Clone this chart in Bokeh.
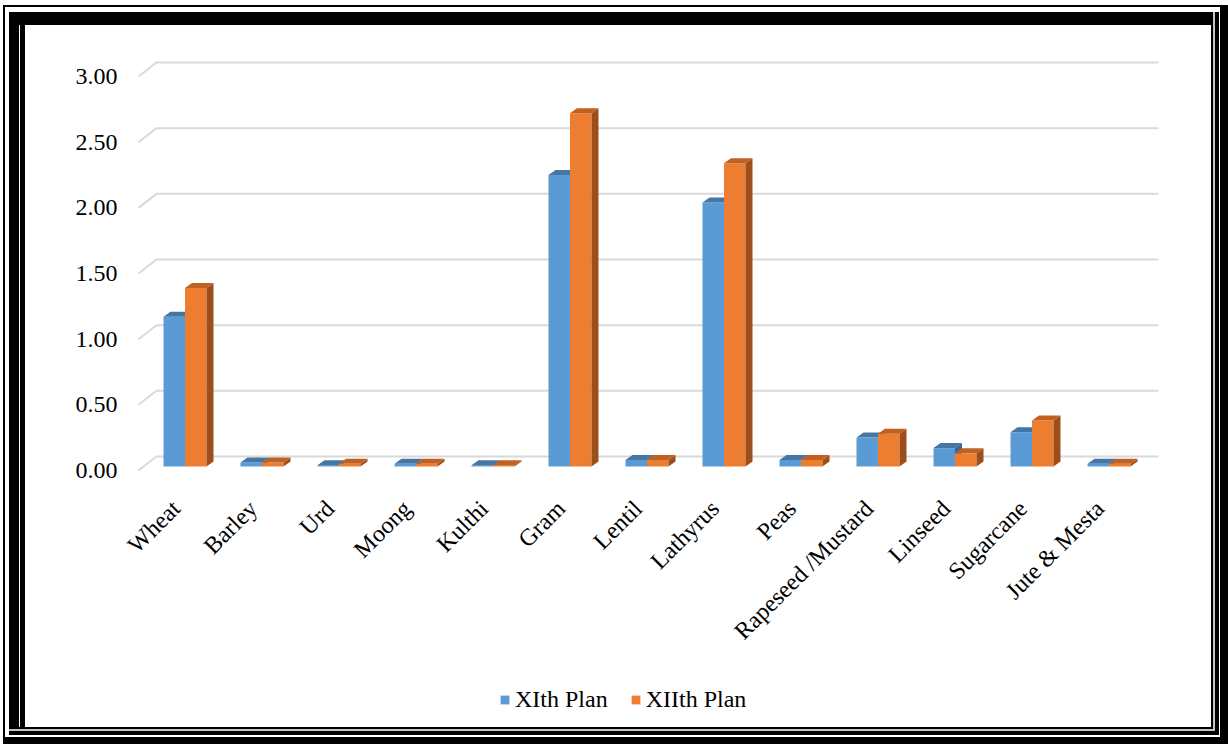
import math
from bokeh.plotting import figure
from bokeh.models import (Range1d, FixedTicker, NumeralTickFormatter, Legend,
                          LegendItem)
from bokeh.embed import file_html
from bokeh.resources import INLINE

# ---------------- data ----------------
categories = ["Wheat", "Barley", "Urd", "Moong", "Kulthi", "Gram", "Lentil",
              "Lathyrus", "Peas", "Rapeseed /Mustard", "Linseed", "Sugarcane",
              "Jute & Mesta"]
xith_plan = [1.14, 0.03, 0.01, 0.02, 0.01, 2.22, 0.05, 2.01, 0.05, 0.22, 0.14, 0.26, 0.02]
xiith_plan = [1.36, 0.03, 0.02, 0.02, 0.01, 2.69, 0.05, 2.31, 0.05, 0.25, 0.10, 0.35, 0.02]
series_names = ["XIth Plan", "XIIth Plan"]
y_ticks = [0.0, 0.5, 1.0, 1.5, 2.0, 2.5, 3.0]

# ---------------- layout / style ----------------
W, H = 1228, 744
FL, FR, FT, FB = 26, 68, 49, 14
Y0_PX = 470.0   # canvas row of the front-plane zero line
X0_PX = 175.5   # canvas column of the first category on the front plane
KX = 77.0       # px per category
KY = 131.33     # px per y unit
x_rng = Range1d(-(X0_PX - FL) / KX, (W - FR - X0_PX) / KX)
y_rng = Range1d(-(H - FB - Y0_PX) / KY, (Y0_PX - FT) / KY)

FONT = "Liberation Serif"
FS = "24px"
BLUE, BLUE_TOP, BLUE_SIDE = "#5B9BD5", "#4676A6", "#3C6790"
ORANGE, ORANGE_TOP, ORANGE_SIDE = "#ED7D31", "#C2611F", "#9C4E1B"

# decorative double frame drawn as inset CSS shadows: (side, depth px, colour)
bands = [("L", 3, "white"), ("T", 5, "white"), ("L", 5, "black"),
         ("B", 7, "black"), ("T", 7, "black"), ("R", 8, "black"),
         ("L", 9, "white"), ("B", 9, "white"), ("R", 9, "white"),
         ("T", 12, "white"), ("B", 13, "black"), ("R", 13, "black"),
         ("B", 15, "#C4C4C4"), ("R", 15, "#C4C4C4"), ("B", 17, "black"),
         ("R", 17, "black"), ("T", 25, "black"), ("L", 19, "black"),
         ("L", 20, "white"), ("L", 25, "black")]
shadow_parts = []
for side, d, col in bands:
    ox = d if side == "L" else (-d if side == "R" else 0)
    oy = d if side == "T" else (-d if side == "B" else 0)
    shadow_parts.append(f"inset {ox}px {oy}px 0 0 {col}")

p = figure(width=W, height=H, x_range=x_rng, y_range=y_rng,
           output_backend="svg", toolbar_location=None,
           min_border_left=FL, min_border_right=FR,
           min_border_top=FT, min_border_bottom=FB)
p.styles = {"box-shadow": ", ".join(shadow_parts), "background-color": "white"}
p.outline_line_color = None
p.xgrid.grid_line_color = None
p.ygrid.grid_line_color = None
p.background_fill_alpha = 0.0
p.border_fill_alpha = 0.0

# ---------------- 3D-style gridlines (back wall) ----------------
n = len(categories)
grid_dx = 18.0 / KX
grid_dy = 14.0 / KY
gx_front = -0.487
gx_end = (n - 1) + 0.76
gxs, gys = [], []
for v in y_ticks:
    gxs.append([gx_front, gx_front + grid_dx, gx_end])
    gys.append([v, v + grid_dy, v + grid_dy])
p.multi_line(gxs, gys, line_color="#D9D9D9", line_width=2)

# ---------------- 3D bars ----------------
bw = 21.5 / KX
shift = 9.0 / KX     # bars sit deeper than the front plane
b0 = 4.0 / KY
ddx = 7.0 / KX
ddy = 5.0 / KY
idx = list(range(n))


def draw_series(vals, offset, front, top, side):
    lefts = [i + shift + offset for i in idx]
    rights = [l + bw for l in lefts]
    tops = [v + b0 for v in vals]
    r = p.quad(left=lefts, right=rights, bottom=[b0] * n, top=tops,
               fill_color=front, line_color=None)
    sx, sy, tx, ty = [], [], [], []
    for l, rr, t in zip(lefts, rights, tops):
        sx.append([rr, rr + ddx, rr + ddx, rr])
        sy.append([b0, b0 + ddy, t + ddy, t])
        tx.append([l, rr, rr + ddx, l + ddx])
        ty.append([t, t, t + ddy, t + ddy])
    p.patches(sx, sy, fill_color=side, line_color=None)
    p.patches(tx, ty, fill_color=top, line_color=None)
    return r


r_blue = draw_series(xith_plan, -bw, BLUE, BLUE_TOP, BLUE_SIDE)
r_orange = draw_series(xiith_plan, 0.0, ORANGE, ORANGE_TOP, ORANGE_SIDE)

# ---------------- axes ----------------
p.yaxis.fixed_location = -0.513
p.yaxis.ticker = FixedTicker(ticks=y_ticks)
p.yaxis.formatter = NumeralTickFormatter(format="0.00")
p.yaxis.axis_line_color = None
p.yaxis.major_tick_line_color = None
p.yaxis.minor_tick_line_color = None
p.yaxis.major_label_standoff = 13
p.yaxis.major_label_text_font = FONT
p.yaxis.major_label_text_font_size = FS
p.yaxis.major_label_text_color = "black"

p.xaxis.fixed_location = 0.0
p.xaxis.ticker = FixedTicker(ticks=idx)
p.xaxis.major_label_overrides = {i: c for i, c in zip(idx, categories)}
p.xaxis.major_label_orientation = math.pi / 4
p.xaxis.axis_line_color = None
p.xaxis.major_tick_line_color = None
p.xaxis.minor_tick_line_color = None
p.xaxis.major_label_standoff = 28
p.xaxis.major_label_text_font = FONT
p.xaxis.major_label_text_font_size = FS
p.xaxis.major_label_text_color = "black"

# ---------------- legend ----------------
legend = Legend(items=[LegendItem(label=series_names[0], renderers=[r_blue]),
                       LegendItem(label=series_names[1], renderers=[r_orange])],
                orientation="horizontal", location=(499 - FL, 17),
                border_line_color=None, background_fill_alpha=0,
                glyph_width=11, glyph_height=11, label_standoff=5,
                spacing=22, padding=0, margin=0,
                label_text_font=FONT, label_text_font_size=FS,
                label_text_color="black")
p.add_layout(legend, "center")

open("out.html", "w").write(file_html(p, INLINE))
